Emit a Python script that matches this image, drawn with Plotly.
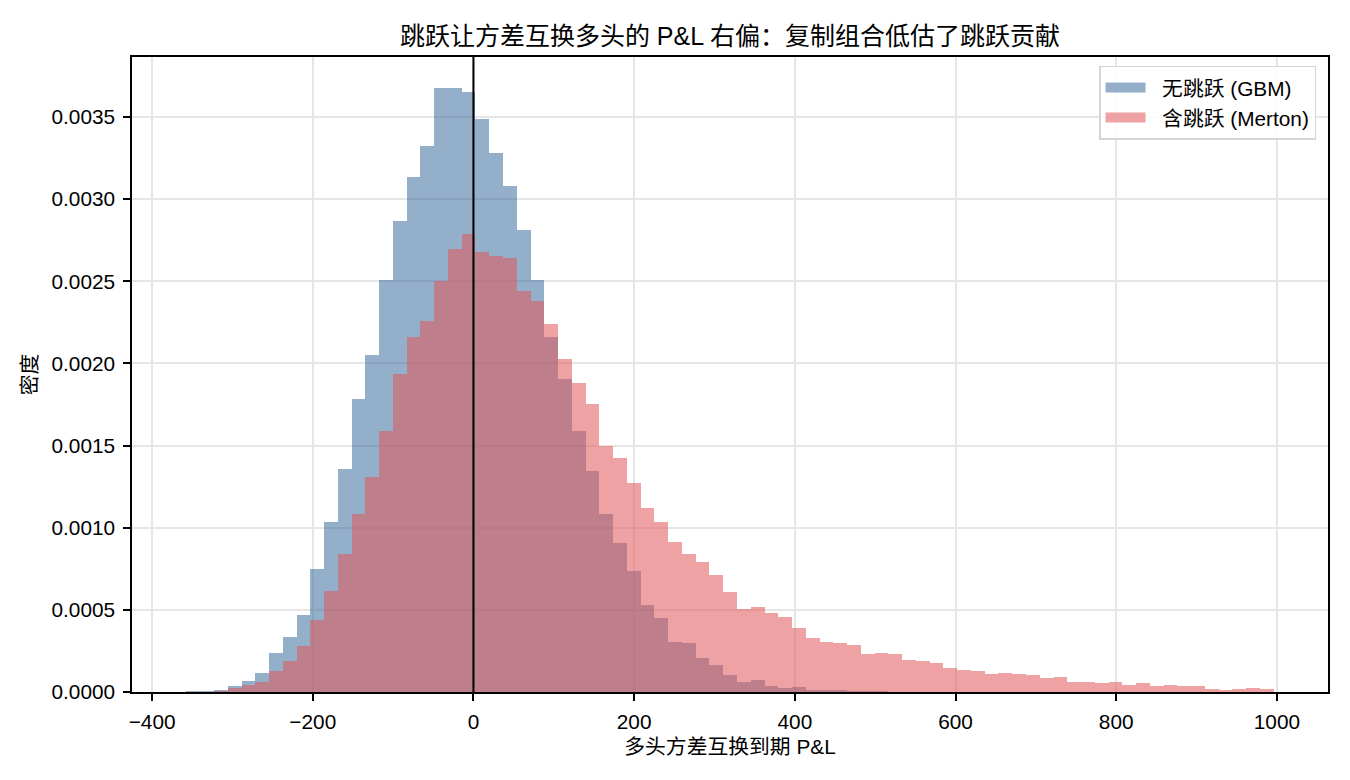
import numpy as np
import plotly.graph_objects as go

# ---- data (density per bin) ----
bin_start = -357.2
bin_width = 17.13

gbm_density = [
    0.000003, 0.000006, 0.000010, 0.000035, 0.000064, 0.000116, 0.000240, 0.000337,
    0.000470, 0.000750, 0.001036, 0.001358, 0.001781, 0.002049, 0.002510, 0.002864,
    0.003137, 0.003325, 0.003677, 0.003677, 0.003652, 0.003488, 0.003283, 0.003082,
    0.002810, 0.002510, 0.002160, 0.001908, 0.001586, 0.001348, 0.001081, 0.000904,
    0.000734, 0.000527, 0.000448, 0.000302, 0.000296, 0.000205, 0.000162, 0.000101,
    0.000059, 0.000071, 0.000035, 0.000022, 0.000028, 0.000010, 0.000010, 0.000010,
    0.000003, 0.000002, 0.000002, 0.0, 0.0, 0.0, 0.0, 0.0,
    0.0, 0.0, 0.0, 0.0, 0.0, 0.0, 0.0, 0.0,
    0.0, 0.0, 0.0, 0.0, 0.0, 0.0, 0.0, 0.0,
    0.0, 0.0, 0.0, 0.0, 0.0, 0.0, 0.0,
]

merton_density = [
    0.0, 0.0, 0.000002, 0.000025, 0.000042, 0.000062, 0.000126, 0.000188,
    0.000278, 0.000436, 0.000617, 0.000842, 0.001085, 0.001308, 0.001588, 0.001935,
    0.002158, 0.002257, 0.002500, 0.002698, 0.002785, 0.002676, 0.002656, 0.002641,
    0.002438, 0.002379, 0.002240, 0.002024, 0.001878, 0.001750, 0.001500, 0.001427,
    0.001275, 0.001117, 0.001032, 0.000910, 0.000843, 0.000789, 0.000710, 0.000606,
    0.000503, 0.000516, 0.000480, 0.000455, 0.000388, 0.000327, 0.000303, 0.000297,
    0.000285, 0.000230, 0.000236, 0.000230, 0.000193, 0.000187, 0.000175, 0.000144,
    0.000132, 0.000126, 0.000108, 0.000114, 0.000107, 0.000101, 0.000087, 0.000093,
    0.000063, 0.000063, 0.000057, 0.000063, 0.000045, 0.000057, 0.000039, 0.000045,
    0.000039, 0.000039, 0.000020, 0.000014, 0.000020, 0.000026, 0.000020,
]

x_ticks = [-400, -200, 0, 200, 400, 600, 800, 1000]
y_ticks = [0.0, 0.0005, 0.0010, 0.0015, 0.0020, 0.0025, 0.0030, 0.0035]

title_text = "跳跃让方差互换多头的 P&L 右偏：复制组合低估了跳跃贡献"
x_label = "多头方差互换到期 P&L"
y_label = "密度"
name_gbm = "无跳跃 (GBM)"
name_merton = "含跳跃 (Merton)"

# ---- build ----
n_bins = len(gbm_density)
centers = [bin_start + (i + 0.5) * bin_width for i in range(n_bins)]

FONT = "Liberation Sans, Arial, Noto Sans CJK SC, sans-serif"
FS = 20.8
C_GBM = "#3E6EA0"
C_MER = "#E15759"
PAD = "\u00a0\u00a0"

fig = go.Figure()
fig.add_trace(go.Bar(
    x=centers, y=gbm_density, width=bin_width, name=name_gbm, showlegend=False,
    marker=dict(color=C_GBM, line=dict(width=0)), opacity=0.55,
))
fig.add_trace(go.Bar(
    x=centers, y=merton_density, width=bin_width, name=name_merton, showlegend=False,
    marker=dict(color=C_MER, line=dict(width=0)), opacity=0.55,
))
# legend entries with wide patch-like swatches
fig.add_trace(go.Scatter(x=[None], y=[None], mode="lines", name=PAD + name_gbm,
                         line=dict(color=C_GBM, width=14), opacity=0.55))
fig.add_trace(go.Scatter(x=[None], y=[None], mode="lines", name=PAD + name_merton,
                         line=dict(color=C_MER, width=14), opacity=0.55))

fig.add_shape(type="line", xref="x", yref="paper", x0=0, x1=0, y0=0, y1=1,
              line=dict(color="black", width=2), layer="above")

fig.update_layout(
    width=1350, height=780,
    barmode="overlay", bargap=0,
    paper_bgcolor="white", plot_bgcolor="white",
    margin=dict(l=132, r=22, t=57, b=88),
    font=dict(family=FONT, size=FS, color="black"),
    title=dict(text=title_text, xref="paper", x=0.5, xanchor="center",
               yref="container", y=0.953, yanchor="middle",
               font=dict(size=25, family=FONT, color="black")),
    showlegend=True,
    legend=dict(x=0.99, y=0.986, xanchor="right", yanchor="top",
                bgcolor="rgba(255,255,255,0.85)", bordercolor="#d5d5d5", borderwidth=1.5,
                font=dict(size=FS, family=FONT), traceorder="normal",
                itemwidth=40, tracegroupgap=2),
)
fig.update_xaxes(
    range=[-425, 1063.6], tickvals=x_ticks,
    showgrid=True, gridcolor="#e6e6e6", gridwidth=1.5,
    showline=True, linecolor="black", linewidth=1.5, mirror=True,
    ticks="outside", ticklen=7, tickcolor="black", tickwidth=1.5,
    ticklabelstandoff=3,
    zeroline=False, automargin=False,
    title=dict(text=x_label, font=dict(size=FS, family=FONT), standoff=8),
    tickfont=dict(size=FS, family=FONT),
)
fig.update_yaxes(
    range=[0, 0.003865], tickvals=y_ticks, tickformat=".4f",
    showgrid=True, gridcolor="#e6e6e6", gridwidth=1.5,
    showline=True, linecolor="black", linewidth=1.5, mirror=True,
    ticks="outside", ticklen=7, tickcolor="black", tickwidth=1.5,
    ticklabelstandoff=4,
    zeroline=False, automargin=False,
    title=dict(text=y_label, font=dict(size=FS, family=FONT), standoff=8),
    tickfont=dict(size=FS, family=FONT),
)

fig.write_html("out.html")
